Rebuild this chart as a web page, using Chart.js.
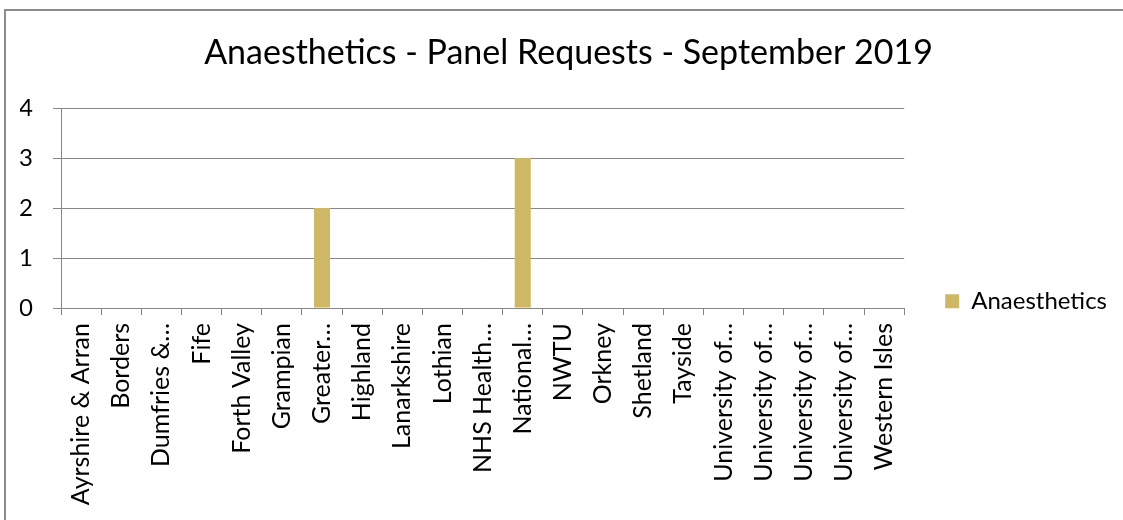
<!DOCTYPE html>
<html lang="en">
<head>
<meta charset="UTF-8">
<title>Anaesthetics - Panel Requests - September 2019</title>
<script src="https://cdn.jsdelivr.net/npm/chart.js@4/dist/chart.umd.min.js"></script>
<style>
  body { margin: 0; background: #fff; font-family: Lato, sans-serif; }
  .wrap { position: relative; width: 1123px; height: 520px; overflow: hidden; }
  .frame { position: absolute; left: 4px; top: 9px; width: 1140px; height: 540px; border: 2px solid #8c8c8c; pointer-events: none; }
  canvas { position: absolute; left: 0; top: 0; }
</style>
</head>
<body>
<div class="wrap">
  <canvas id="chart" width="1123" height="520"></canvas>
  <div class="frame"></div>
</div>
<script>
const chartTitle = 'Anaesthetics - Panel Requests - September 2019';
const categories = [
  'Ayrshire & Arran', 'Borders', 'Dumfries &…', 'Fife', 'Forth Valley', 'Grampian',
  'Greater…', 'Highland', 'Lanarkshire', 'Lothian', 'NHS Health…', 'National…',
  'NWTU', 'Orkney', 'Shetland', 'Tayside', 'University of…', 'University of…',
  'University of…', 'University of…', 'Western Isles'
];
const seriesName = 'Anaesthetics';
const requests = [0, 0, 0, 0, 0, 0, 2, 0, 0, 0, 0, 3, 0, 0, 0, 0, 0, 0, 0, 0, 0];
const yTicks = [0, 1, 2, 3, 4];

const gridColor = '#878787';

new Chart(document.getElementById('chart'), {
  type: 'bar',
  data: {
    labels: categories,
    datasets: [{
      label: seriesName,
      data: requests,
      backgroundColor: '#ceb866',
      barPercentage: 0.4,
      categoryPercentage: 1
    }]
  },
  options: {
    responsive: false,
    animation: false,
    layout: { padding: { left: 20, right: 6, top: 0, bottom: 0 } },
    plugins: {
      title: {
        display: true,
        text: chartTitle,
        color: '#000',
        font: { family: 'Lato', size: 34, weight: 'normal' },
        padding: { top: 33, bottom: 34.2 }
      },
      legend: {
        position: 'right',
        maxWidth: 213,
        title: { display: true, text: ' ', font: { size: 12 }, padding: { top: 68, bottom: 0 } },
        labels: {
          boxWidth: 14,
          boxHeight: 14,
          padding: 41,
          color: '#000',
          font: { family: 'Lato', size: 24 }
        }
      },
      tooltip: { enabled: false }
    },
    scales: {
      x: {
        offset: true,
        grid: { offset: true, drawOnChartArea: false, tickLength: 7, color: gridColor },
        border: { color: gridColor },
        ticks: {
          autoSkip: false,
          minRotation: 90,
          maxRotation: 90,
          padding: 8,
          color: '#000',
          font: { family: 'Lato', size: 25 }
        },
        afterFit: (scale) => { scale.height = 212; }
      },
      y: {
        min: yTicks[0],
        max: yTicks[yTicks.length - 1],
        afterBuildTicks: (scale) => { scale.ticks = yTicks.map((v) => ({ value: v })); },
        grid: { color: gridColor, tickLength: 8 },
        border: { color: gridColor },
        ticks: {
          padding: 20,
          color: '#000',
          font: { family: 'Lato', size: 24 }
        },
        afterFit: (scale) => { scale.width = 41; }
      }
    }
  }
});
</script>
</body>
</html>
